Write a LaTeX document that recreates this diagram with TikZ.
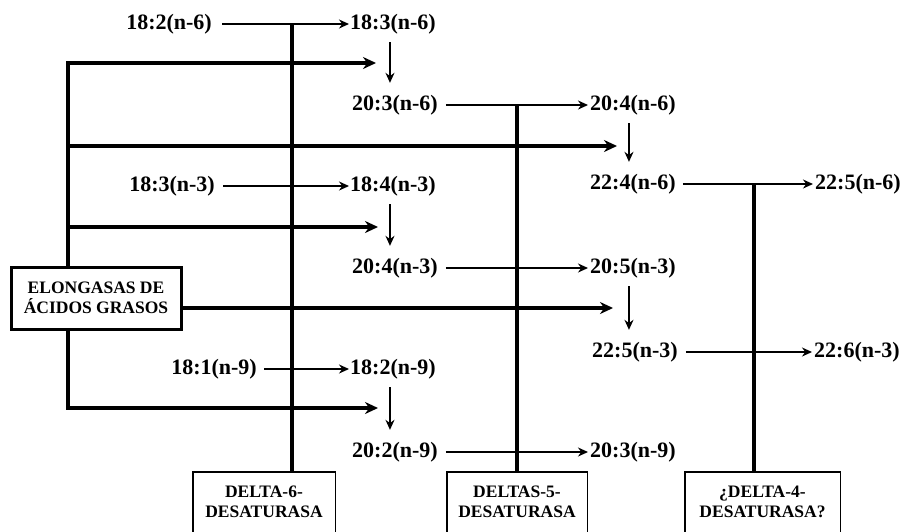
\documentclass[tikz,border=0pt]{standalone}
\usepackage{fontspec}
\setmainfont{Liberation Serif}
\usetikzlibrary{arrows.meta}
\begin{document}
\begin{tikzpicture}[x=1pt,y=-1pt,
  lbl/.style={font=\fontsize{22}{24}\selectfont\bfseries, inner sep=0pt},
  enz/.style={font=\fontsize{17.5}{20}\selectfont\bfseries, align=center,
              inner sep=0pt, minimum height=60pt},
  frame/.style={line width=1.4pt},
  ebox/.style={draw, line width=3pt, font=\fontsize{17.5}{20}\selectfont\bfseries,
               align=center, minimum width=170pt, minimum height=62pt, inner sep=0pt},
  conv/.style={line width=1.5pt, -{Stealth[length=10pt,width=9pt]}},
  down/.style={conv, shorten <=8pt, shorten >=12pt},
  elong/.style={line width=3.6pt, line join=miter, -{Stealth[length=13pt,width=12pt]}},
  bar/.style={line width=3.6pt}]
\useasboundingbox (0,0) rectangle (902,531);
\clip (0,0) rectangle (902,531);

% substrate / product labels
\node[lbl, anchor=east] (a1) at (212,24)  {18:2(n-6)};
\node[lbl, anchor=west] (a2) at (350,24)  {18:3(n-6)};
\node[lbl, anchor=west] (b1) at (352,105) {20:3(n-6)};
\node[lbl, anchor=west] (b2) at (590,105) {20:4(n-6)};
\node[lbl, anchor=east] (c1) at (215,186) {18:3(n-3)};
\node[lbl, anchor=west] (c2) at (350,186) {18:4(n-3)};
\node[lbl, anchor=west] (c3) at (590,184) {22:4(n-6)};
\node[lbl, anchor=west] (c4) at (815,184) {22:5(n-6)};
\node[lbl, anchor=west] (d1) at (352,268) {20:4(n-3)};
\node[lbl, anchor=west] (d2) at (590,268) {20:5(n-3)};
\node[lbl, anchor=west] (e1) at (592,352) {22:5(n-3)};
\node[lbl, anchor=west] (e2) at (814,352) {22:6(n-3)};
\node[lbl, anchor=east] (f1) at (257,369) {18:1(n-9)};
\node[lbl, anchor=west] (f2) at (350,369) {18:2(n-9)};
\node[lbl, anchor=west] (g1) at (352,452) {20:2(n-9)};
\node[lbl, anchor=west] (g2) at (590,452) {20:3(n-9)};

% desaturation steps
\draw[conv] ([xshift=10pt]a1.east) -- ([xshift=-1pt]a2.west);
\draw[conv] ([xshift=8pt]b1.east)  -- ([xshift=-2pt]b2.west);
\draw[conv] ([xshift=8pt]c1.east)  -- ([xshift=-1pt]c2.west);
\draw[conv] ([xshift=7pt]c3.east)  -- ([xshift=-2pt]c4.west);
\draw[conv] ([xshift=8pt]d1.east)  -- ([xshift=-2pt]d2.west);
\draw[conv] ([xshift=8pt]e1.east)  -- ([xshift=-2pt]e2.west);
\draw[conv] ([xshift=7pt]f1.east)  -- ([xshift=-1pt]f2.west);
\draw[conv] ([xshift=8pt]g1.east)  -- ([xshift=-2pt]g2.west);

% elongation steps
\draw[down] ([xshift=-3pt]a2.south) -- ([xshift=-3pt]a2.south |- b1.north);
\draw[down] ([xshift=-3pt]c2.south) -- ([xshift=-3pt]c2.south |- d1.north);
\draw[down] ([xshift=-3pt]f2.south) -- ([xshift=-3pt]f2.south |- g1.north);
\draw[down] ([xshift=-4pt]b2.south) -- ([xshift=-4pt]b2.south |- c3.north);
\draw[down] ([xshift=-4pt]d2.south) -- ([xshift=-4pt]d2.south |- e1.north);

% enzyme boxes
\node[enz, minimum width=142pt] (d6) at (264,502)   {DELTA-6-\\DESATURASA};
\node[enz, minimum width=140pt] (d5) at (517,502)   {DELTAS-5-\\DESATURASA};
\node[enz, minimum width=155pt] (d4) at (762.5,502) {¿DELTA-4-\\DESATURASA?};
\foreach \n in {d6,d5,d4}
  \draw[frame] ([yshift=-30pt]\n.south west) -- (\n.north west)
               -- (\n.north east) -- ([yshift=-30pt]\n.south east);

% enzyme action bars
\coordinate (v6) at (292,24);
\coordinate (v5) at (517,105);
\coordinate (v4) at (754,184);
\draw[bar] (v6) -- (v6 |- d6.north);
\draw[bar] (v5) -- (v5 |- d5.north);
\draw[bar] (v4) -- (v4 |- d4.north);

% elongase box and its branches
\node[ebox] (E) at (96,298) {ELONGASAS DE\\ÁCIDOS GRASOS};
\coordinate (t)  at (68,63);
\coordinate (h1) at (376,63);
\coordinate (h2) at (617,146);
\coordinate (h3) at (378,227);
\coordinate (h4) at (613,308);
\coordinate (h5) at (378,408);
\draw[elong] (t |- E.north) -- (t) -- (h1);
\draw[elong] (t |- h2) -- (h2);
\draw[elong] (t |- h3) -- (h3);
\draw[elong] (E.east |- h4) -- (h4);
\draw[elong] (t |- E.south) -- (t |- h5) -- (h5);
\end{tikzpicture}
\end{document}
